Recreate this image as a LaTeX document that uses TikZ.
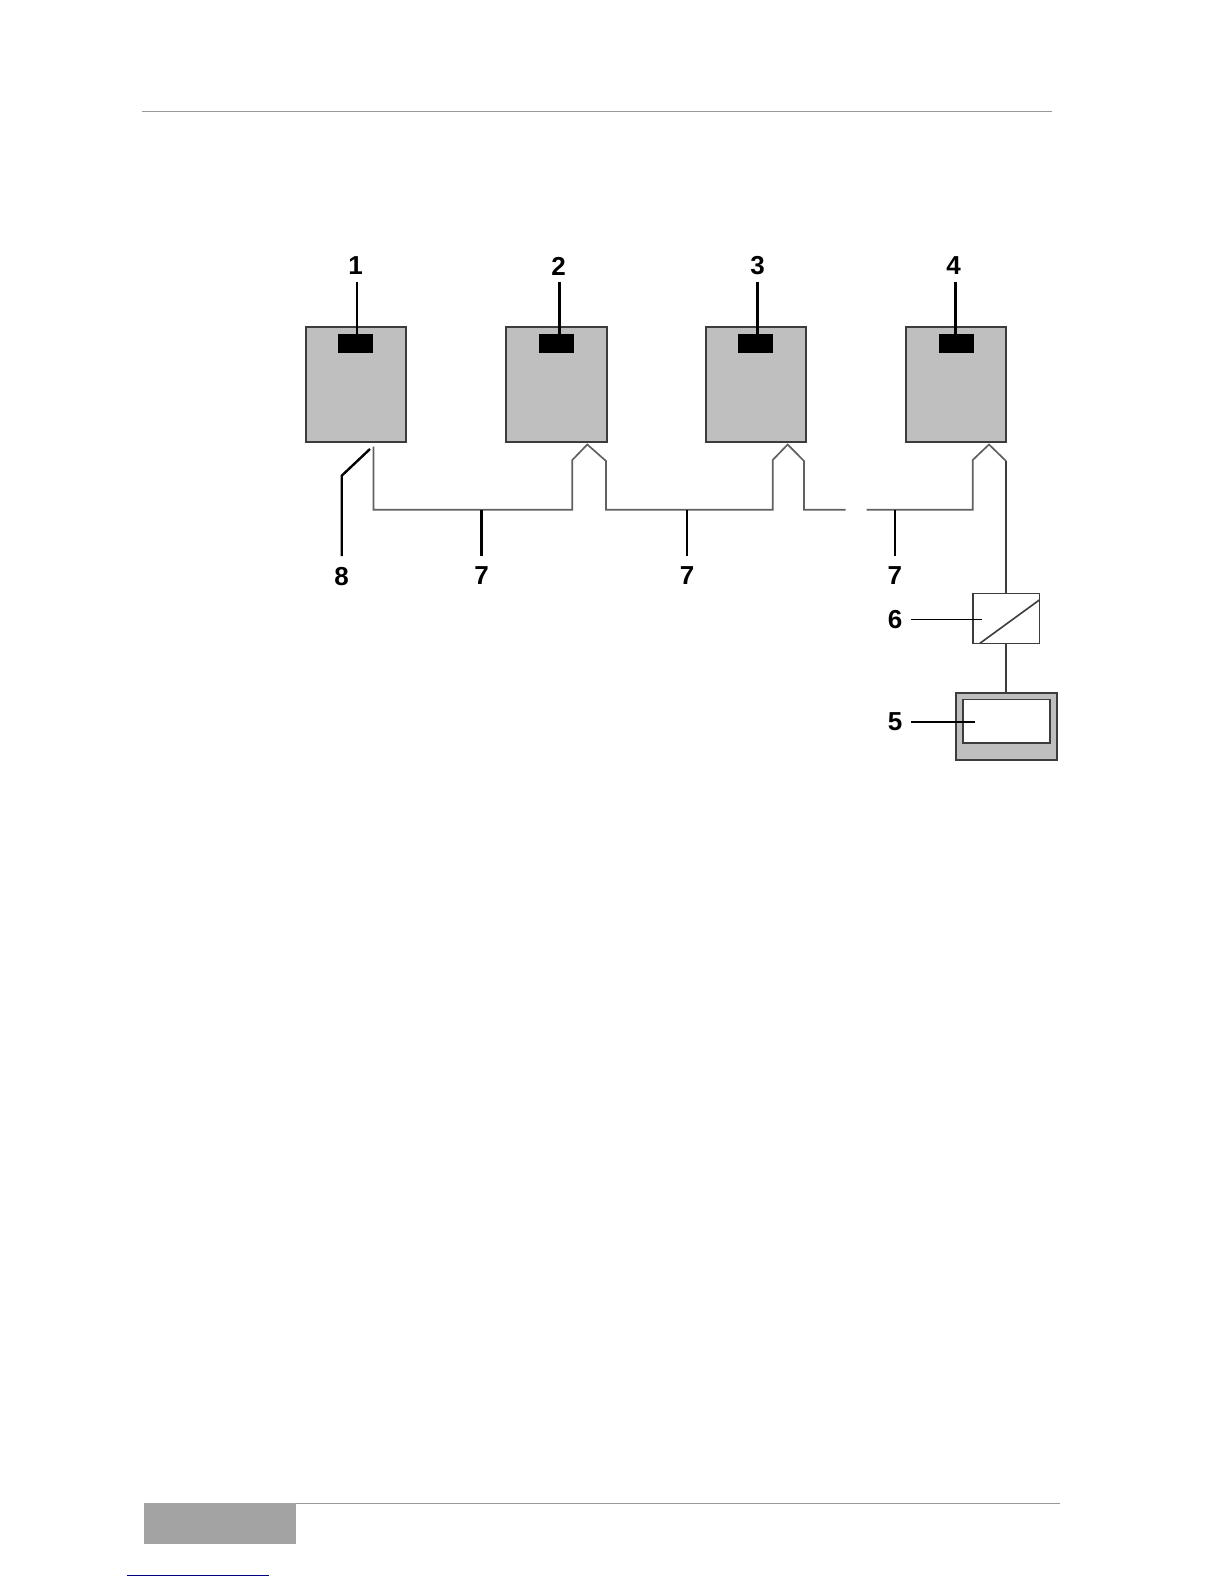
\documentclass[tikz,border=0pt]{standalone}
\usepackage{fontspec}
\setmainfont{Liberation Sans}
\usepackage{xcolor}
\usetikzlibrary{calc}

\definecolor{unitgray}{HTML}{BFBFBF}
\definecolor{wiregray}{HTML}{606060}
\definecolor{edgegray}{HTML}{3C3C3C}
\tikzset{
  unitbox/.style={draw=edgegray,line width=0.45mm,fill=unitgray,inner sep=0,outer sep=0,minimum width=25.1mm,minimum height=28.9mm},
  chipbox/.style={fill=black,inner sep=0,outer sep=0,minimum width=8.75mm,minimum height=4.6mm},
  tag/.style={font=\bfseries\fontsize{18.5}{20}\selectfont,text=black,inner sep=1.7mm,outer sep=0},
  leader/.style={draw=black,line width=0.6mm},
  thinleader/.style={draw=black,line width=0.45mm,shorten <=0.5mm},
  busline/.style={draw=wiregray,line width=0.42mm,line join=miter},
  rule/.style={draw=black!40,line width=0.25mm},
}

\begin{document}
\begin{tikzpicture}[x=0.25mm,y=-0.25mm]
  \useasboundingbox (0,0) rectangle (1224,1584);
  % page furniture
  \draw[rule] (142,111.5) -- (1052,111.5);
  \draw[rule] (144,1503.3) -- (1060,1503.3);
  \fill[black!36] (144,1503.3) rectangle (296,1544);
  \draw[draw=blue!50!black,line width=0.3mm] (127,1575.3) -- (269,1575.3);

  % the four units
  \foreach \k/\off/\tx/\lx in {1/355.85/355.5/356.7, 2/556.5/558.5/559.3, 3/755.85/757.6/757.6, 4/956/953.6/955.6}{
    \node[unitbox] (unit\k) at (\off,384.5) {};
    \node[chipbox] (chip\k) at (\off,343.5) {};
    \node[tag] (tag\k) at (\tx,266) {\k};
    \coordinate (tip\k) at (\lx,338);
    \draw[leader] (tag\k.south -| tip\k) -- (tip\k);
  }

  % converter and monitor
  \node[draw=edgegray,line width=0.4mm,fill=white,inner sep=0,outer sep=0,minimum width=16.65mm,minimum height=12.5mm] (conv) at (1006,618.3) {};
  \draw[draw=edgegray,line width=0.4mm] ([xshift=1.8mm]conv.south west) -- ([yshift=-1.68mm]conv.north east);
  \node[draw=edgegray,line width=0.4mm,fill=unitgray,inner sep=0,outer sep=0,minimum width=25.2mm,minimum height=16.75mm] (monitor) at (1006.35,726.2) {};
  \node[draw=edgegray,line width=0.4mm,fill=white,inner sep=0,outer sep=0,minimum width=21.75mm,minimum height=10.85mm] (screen) at (1006.2,721) {};

  % bus
  \coordinate (port1) at (373.5,446.7);
  \coordinate (bus) at (0,509.8);
  \foreach \k/\xl/\xa/\xr in {2/572.3/587.3/606, 3/772.7/787.7/804, 4/972.7/989/1006}{
    \coordinate (lfoot\k) at (\xl,460);
    \coordinate (apex\k) at (\xa,444.5);
    \coordinate (rfoot\k) at (\xr,461);
  }
  \coordinate (gapa) at (845.7,509.8);
  \coordinate (gapb) at (866.7,509.8);
  \draw[busline] (port1) -- (port1 |- bus) -- (lfoot2 |- bus) -- (lfoot2) -- (apex2) -- (rfoot2)
    -- (rfoot2 |- bus) -- (lfoot3 |- bus) -- (lfoot3) -- (apex3) -- (rfoot3) -- (rfoot3 |- bus) -- (gapa);
  \draw[busline] (gapb) -- (lfoot4 |- bus) -- (lfoot4) -- (apex4) -- (rfoot4);
  \draw[draw=edgegray,line width=0.4mm] (rfoot4) -- (rfoot4 |- conv.north);
  \draw[draw=edgegray,line width=0.4mm] (conv.south) -- (conv.south |- monitor.north);

  % tags under the bus
  \foreach \n/\x in {a/481.5, b/687.2, c/894.8}{
    \coordinate (tap\n) at (\x,509.8);
    \node[tag] (seven\n) at (\x,575.8) {7};
    \draw[leader,shorten >=1mm] (tap\n) -- (seven\n.north);
  }
  \node[tag] (tag8) at (341.5,577) {8};
  \coordinate (kink8) at (341.7,475.7);
  \coordinate (end8) at (370,449);
  \draw[leader,line join=miter,shorten <=1.2mm] (tag8.north -| kink8) -- (kink8) -- (end8);

  % tags of converter and monitor
  \node[tag] (tag6) at (895,619.5) {6};
  \coordinate (tip6) at (982,619.5);
  \draw[thinleader] (tag6) -- (tip6);
  \node[tag] (tag5) at (895,722) {5};
  \coordinate (tip5) at (975,722);
  \draw[thinleader] (tag5) -- (tip5);
\end{tikzpicture}
\end{document}
